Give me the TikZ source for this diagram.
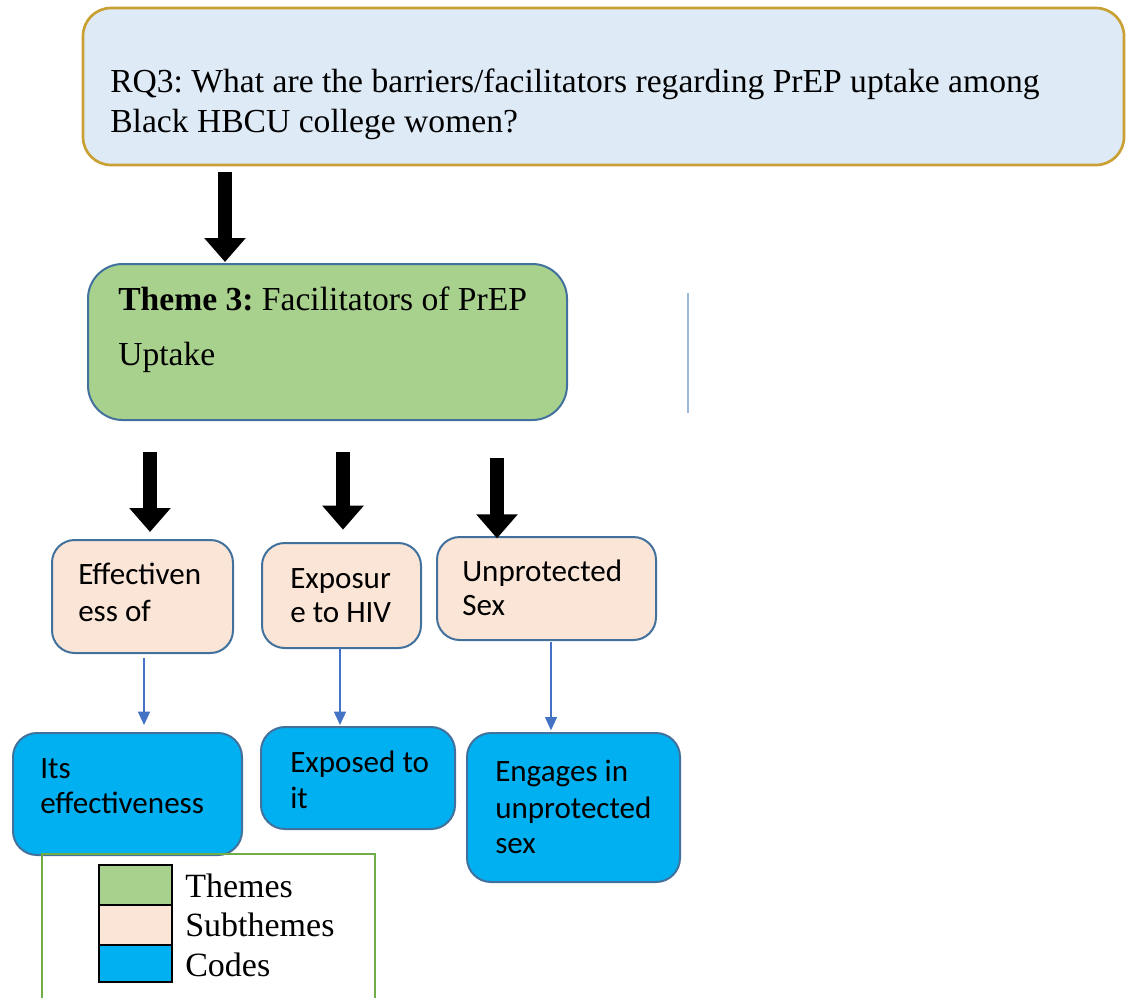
\documentclass[tikz,border=0pt]{standalone}
\usepackage{fontspec}
\setmainfont{Liberation Serif}
\newfontfamily\calfont{Carlito}
\usetikzlibrary{arrows.meta}
\frenchspacing

\definecolor{rqfill}{HTML}{DEEAF6}
\definecolor{rqline}{HTML}{C9A032}
\definecolor{themefill}{HTML}{A9D18E}
\definecolor{boxline}{HTML}{41719C}
\definecolor{subfill}{HTML}{FBE5D6}
\definecolor{codefill}{HTML}{00B0F0}
\definecolor{thinblue}{HTML}{4472C4}
\definecolor{legendline}{HTML}{70AD47}
\definecolor{strayline}{HTML}{9DB9E0}

\begin{document}
\begin{tikzpicture}[x=0.75pt,y=-0.75pt,
  sz/.style 2 args={minimum width=#1*0.75pt, minimum height=#2*0.75pt},
  boxbase/.style={draw, inner sep=0pt, outer sep=0pt, line width=1.5pt},
  rqbox/.style={boxbase, draw=rqline, fill=rqfill, line width=2pt, rounded corners=21pt},
  themebox/.style={boxbase, draw=boxline, fill=themefill, rounded corners=26pt},
  subbox/.style={boxbase, draw=boxline, fill=subfill, rounded corners=17pt},
  codebox/.style={boxbase, draw=boxline, fill=codefill, rounded corners=18pt},
  swatch/.style={draw=black, line width=1.5pt, inner sep=0pt, outer sep=0pt, sz={73}{40}},
  sertext/.style={inner sep=0pt, anchor=base west, font=\fontsize{25.2}{30}\selectfont},
  legtext/.style={inner sep=0pt, anchor=base west, font=\fontsize{25.5}{30}\selectfont},
  santext/.style={inner sep=0pt, anchor=base west, font=\calfont\fontsize{23.3}{27}\selectfont},
  blockarrow/.style={draw=black, line width=10.5pt, -{Triangle[width=30pt,length=18pt]}},
  thinarrow/.style={draw=thinblue, line width=1.1pt, -{Triangle[width=9pt,length=10pt]}}
]
\useasboundingbox (0,0) rectangle (1127,997);

% research question
\node[rqbox, sz={1041}{157}] (rq) at (603.5,86.5) {};
\node[sertext] (rqa) at (110,92) {RQ3: What are the barriers/facilitators regarding PrEP uptake among};
\node[sertext] (rqb) at (110,132) {Black HBCU college women?};

% theme
\node[themebox, sz={479}{156}] (theme) at (327.5,342) {};
\node[sertext] (tha) at (118,310) {\textbf{Theme 3:} Facilitators of PrEP};
\node[sertext] (thb) at (118,365) {Uptake};

% thin stray rule right of the theme
\draw[strayline, line width=1.1pt] (688,293) -- (688,413);

% subthemes
\node[subbox, sz={181}{113}] (s1) at (142.5,596.5) {};
\node[santext] (s1a) at (78,584) {Effectiven};
\node[santext] (s1b) at (78,621) {ess of};
\node[subbox, sz={159}{105}] (s2) at (341.5,595.5) {};
\node[santext] (s2a) at (290,588) {Exposur};
\node[santext] (s2b) at (290,622) {e to HIV};
\node[subbox, sz={219}{103}] (s3) at (546.5,588.5) {};
\node[santext] (s3a) at (462,581) {Unprotected};
\node[santext] (s3b) at (462,615) {Sex};

% codes
\node[codebox, sz={229}{122}] (c1) at (127.5,794) {};
\node[santext] (c1a) at (40,778) {Its};
\node[santext] (c1b) at (40,813) {effectiveness};
\node[codebox, sz={194}{102}] (c2) at (358,778) {};
\node[santext] (c2a) at (290,772) {Exposed to};
\node[santext] (c2b) at (290,808) {it};
\node[codebox, sz={213}{149}] (c3) at (573.5,807.5) {};
\node[santext] (c3a) at (495,781) {Engages in};
\node[santext] (c3b) at (495,818) {unprotected};
\node[santext] (c3c) at (495,853) {sex};

% arrow columns
\coordinate (ax0) at (225,0);
\coordinate (ax1) at (150,0);
\coordinate (ax2) at (343,0);
\coordinate (ax3) at (497,0);
\coordinate (bx1) at (144,0);
\coordinate (bx2) at (340,0);
\coordinate (bx3) at (551,0);

\draw[blockarrow, shorten <=5pt, shorten >=1.5pt] (rq.south -| ax0) -- (theme.north -| ax0);
\draw[blockarrow, shorten <=24pt, shorten >=6pt] (theme.south -| ax1) -- (s1.north -| ax1);
\draw[blockarrow, shorten <=24pt, shorten >=10pt] (theme.south -| ax2) -- (s2.north -| ax2);
\draw[blockarrow, shorten <=28.5pt, shorten >=-1pt] (theme.south -| ax3) -- (s3.north -| ax3);

\draw[thinarrow, shorten <=4pt, shorten >=6pt] (s1.south -| bx1) -- (c1.north -| bx1);
\draw[thinarrow, shorten <=0pt, shorten >=1.5pt] (s2.south -| bx2) -- (c2.north -| bx2);
\draw[thinarrow, shorten <=1.5pt, shorten >=2pt] (s3.south -| bx3) -- (c3.north -| bx3);

% legend
\node[draw=legendline, line width=1.5pt, inner sep=0pt, outer sep=0pt, sz={333}{160}, anchor=north west] (legend) at (42,854) {};
\node[swatch, fill=themefill] (lg1) at (135.5,885) {};
\node[swatch, fill=subfill] (lg2) at (135.5,925) {};
\node[swatch, fill=codefill, sz={73}{37}] (lg3) at (135.5,963.5) {};
\node[legtext] (lt1) at (185,897) {Themes};
\node[legtext] (lt2) at (185,936) {Subthemes};
\node[legtext] (lt3) at (185,976) {Codes};
\end{tikzpicture}
\end{document}
